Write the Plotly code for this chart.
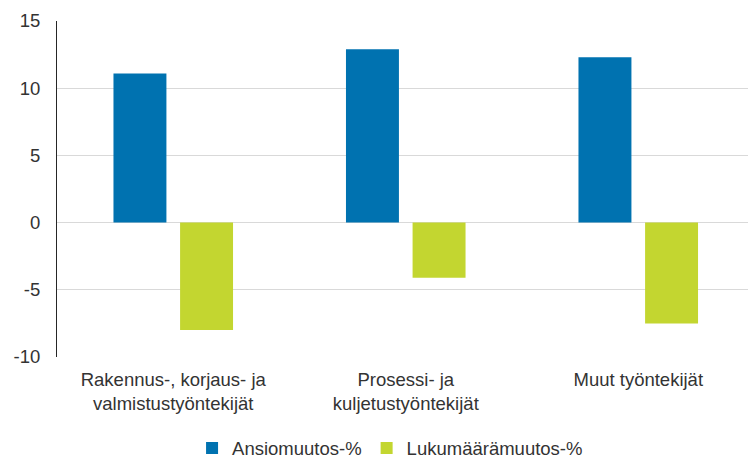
import plotly.graph_objects as go

categories = [
    "Rakennus-, korjaus- ja<br>valmistustyöntekijät",
    "Prosessi- ja<br>kuljetustyöntekijät",
    "Muut työntekijät",
]
ansiomuutos = [11.1, 12.9, 12.3]
lukumaaramuutos = [-8.0, -4.1, -7.5]
y_ticks = [-10, -5, 0, 5, 10, 15]
y_tick_labels = ["-10", "-5", "0", "5", "10", "15"]

_BLUE = "#0072B0"
_GREEN = "#C3D630"
_INK = "#333333"
_GRID = "#D9D9D9"

fig = go.Figure()
fig.add_trace(go.Bar(x=categories, y=ansiomuutos, name="Ansiomuutos-%",
                     marker=dict(color=_BLUE, line=dict(width=0))))
fig.add_trace(go.Bar(x=categories, y=lukumaaramuutos, name="Lukumäärämuutos-%",
                     marker=dict(color=_GREEN, line=dict(width=0))))

fig.update_layout(
    width=748,
    height=461,
    margin=dict(l=57, r=0, t=21, b=104, autoexpand=False),
    plot_bgcolor="white",
    paper_bgcolor="white",
    font=dict(family="Liberation Sans, Arial, sans-serif", size=18.5, color=_INK),
    barmode="group",
    bargap=0.427,
    bargroupgap=0.205,
    xaxis=dict(
        range=[-0.5, 2.472],
        showgrid=False,
        zeroline=False,
        showline=False,
        ticks="",
        ticklabelstandoff=9,
    ),
    yaxis=dict(
        range=[-10, 15],
        tickvals=y_ticks,
        ticktext=y_tick_labels,
        showgrid=True,
        gridcolor=_GRID,
        gridwidth=1,
        zeroline=True,
        zerolinecolor=_GRID,
        zerolinewidth=1,
        showline=True,
        linecolor="#262626",
        linewidth=1,
        ticks="",
        ticklabelstandoff=12,
    ),
    legend=dict(
        orientation="h",
        x=0.482,
        xanchor="center",
        y=-0.272,
        yanchor="middle",
        font=dict(size=18.5),
        itemwidth=30,
    ),
)

# the page's default 8px body margin would push the figure off the window
fig.write_html(
    "out.html",
    config={"displayModeBar": False},
    post_script="document.body.style.margin = '0px';",
)
